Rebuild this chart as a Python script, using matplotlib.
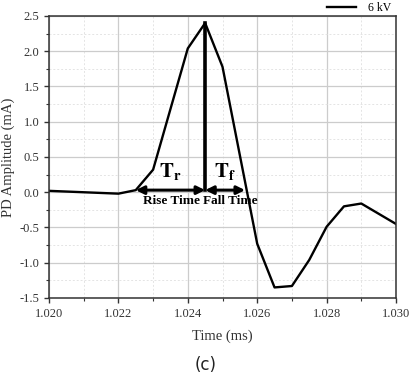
import matplotlib
matplotlib.use('Agg')

import numpy as np
import matplotlib.pyplot as plt
from matplotlib.ticker import MultipleLocator

# PD pulse at 6 kV
time_ms = [1.0200, 1.0215, 1.0220, 1.0225, 1.0230, 1.0240, 1.0245, 1.0250,
           1.0260, 1.0265, 1.0270, 1.0275, 1.0280, 1.0285, 1.0290, 1.0300]
amp_ma = [0.02, -0.01, -0.02, 0.03, 0.32, 2.04, 2.40, 1.78,
          -0.73, -1.35, -1.33, -0.96, -0.49, -0.20, -0.16, -0.45]
series_label = '6 kV'

# rise / fall markers
t_start = 1.0225
t_peak = 1.0245
t_end = 1.02565
peak_amp = 2.40
base_amp = 0.03

plt.rcParams['font.family'] = ['Liberation Serif', 'DejaVu Serif']

fig = plt.figure(figsize=(4.13, 3.86), dpi=100)
ax = fig.add_axes([49 / 413, 1 - 298 / 386, 347 / 413, 282 / 386])

ax.plot(time_ms, amp_ma, color='black', lw=1.7, label=series_label)

# peak line and arrows
ax.plot([t_peak, t_peak], [base_amp, peak_amp], color='black', lw=2.6)
arrowprops = dict(arrowstyle='<|-|>', color='black', lw=2.2,
                  mutation_scale=12, shrinkA=0, shrinkB=0)
ax.annotate('', xy=(t_start, base_amp), xytext=(t_peak, base_amp), arrowprops=arrowprops)
ax.annotate('', xy=(t_peak, base_amp), xytext=(t_end, base_amp), arrowprops=arrowprops)

ax.text((t_start + t_peak) / 2, 0.3, r'$\mathbf{T_r}$', ha='center', va='center', fontsize=15,
        math_fontfamily='stix')
ax.text((t_peak + t_end) / 2, 0.3, r'$\mathbf{T_f}$', ha='center', va='center', fontsize=15,
        math_fontfamily='stix')
ax.text(t_peak - 0.00014, -0.13, 'Rise Time', ha='right', va='center',
        fontsize=9.5, fontweight='bold')
ax.text(t_peak - 0.00007, -0.13, 'Fall Time', ha='left', va='center',
        fontsize=9.5, fontweight='bold')

ax.set_xlim(1.020, 1.030)
ax.set_ylim(-1.5, 2.5)
ax.xaxis.set_major_locator(MultipleLocator(0.002))
ax.xaxis.set_minor_locator(MultipleLocator(0.001))
ax.yaxis.set_major_locator(MultipleLocator(0.5))
ax.yaxis.set_minor_locator(MultipleLocator(0.25))
ax.xaxis.set_major_formatter(matplotlib.ticker.FormatStrFormatter('%.3f'))
ax.yaxis.set_major_formatter(matplotlib.ticker.FormatStrFormatter('%.1f'))

ax.grid(which='major', color='#cccccc', lw=0.9)
ax.grid(which='minor', color='#e4e4e4', lw=0.7, ls=(0, (2, 2)))
ax.set_axisbelow(True)

ax.tick_params(which='both', direction='out', labelsize=9, colors='#333333')
ax.tick_params(which='major', length=3.5, width=1.0)
ax.tick_params(which='minor', length=2, width=0.8)
for s in ax.spines.values():
    s.set_color('#333333')
    s.set_linewidth(1.1)

ax.set_xlabel('Time (ms)', fontsize=10.5, color='#333333', labelpad=7)
ax.set_ylabel('PD Amplitude (mA)', fontsize=10.5, color='#333333', labelpad=3)

ax.legend(loc='lower right', bbox_to_anchor=(1.0, 0.99), frameon=False,
          fontsize=8.5, handlelength=2.5, handletextpad=1.0, borderaxespad=0)

fig.text(206 / 413, 1 - 365 / 386, '(c)', ha='center', va='center', fontsize=12,
         family=['DejaVu Sans'], color='#222222')

fig.savefig('out.png', dpi=100)
